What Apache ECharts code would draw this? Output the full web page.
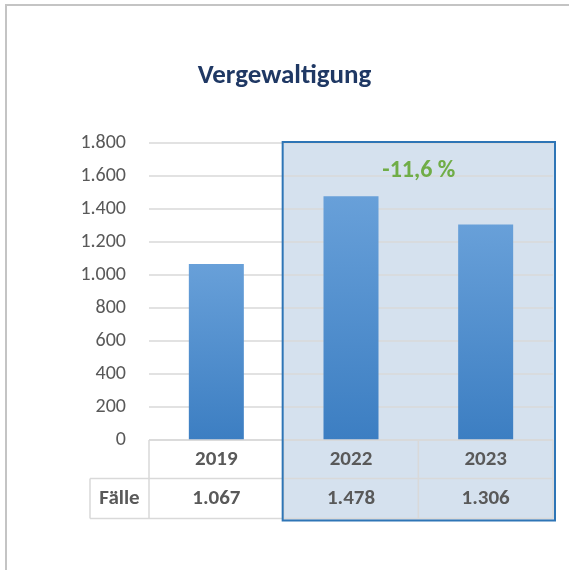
<!DOCTYPE html>
<html>
<head>
<meta charset="utf-8">
<script src="https://cdn.jsdelivr.net/npm/echarts@6/dist/echarts.min.js"></script>
<style>
  html, body { margin: 0; padding: 0; background: #fff; }
  #chart { width: 569px; height: 570px; }
</style>
</head>
<body>
<div id="chart"></div>
<script>
const title = 'Vergewaltigung'
const categories = ['2019', '2022', '2023']
const cases = [1067, 1478, 1306]
const rowLabel = 'Fälle'
const highlighted = ['2022', '2023']
const changeLabel = '-11,6 %'
const yMax = 1800
const yStep = 200

const FONT = 'Carlito, Lato, "Open Sans", sans-serif'
const TEXT = '#595959'
const GRID_LINE = '#d9d9d9'

const fmt = (n) => String(n).replace(/\B(?=(\d{3})+(?!\d))/g, '.')

const chart = echarts.init(document.getElementById('chart'))

chart.setOption({
  animation: false,
  textStyle: { fontFamily: FONT },
  title: {
    text: title,
    left: 'center',
    top: 58,
    textStyle: { color: '#1f3864', fontSize: 27, fontWeight: 'bold', fontFamily: FONT }
  },
  grid: { left: 149, right: 16, top: 143, bottom: 130 },
  xAxis: {
    type: 'category',
    data: categories,
    axisLine: { show: false },
    axisTick: { show: false },
    axisLabel: { show: false }
  },
  yAxis: {
    type: 'value',
    min: 0,
    max: yMax,
    interval: yStep,
    axisLine: { show: false },
    axisTick: { show: false },
    axisLabel: { color: TEXT, fontSize: 20, margin: 23, formatter: (v) => fmt(v) },
    splitLine: { lineStyle: { color: GRID_LINE, width: 1.5 } }
  },
  series: [{
    type: 'bar',
    data: cases,
    barWidth: 55,
    itemStyle: {
      color: new echarts.graphic.LinearGradient(0, 0, 0, 1, [
        { offset: 0, color: '#68a0d9' },
        { offset: 1, color: '#3c7ec2' }
      ]),
      shadowBlur: 6,
      shadowColor: 'rgba(0,0,0,0.3)',
      shadowOffsetX: 2,
      shadowOffsetY: 1
    }
  }]
})

function drawExtras() {
  const cx = categories.map((c) => chart.convertToPixel({ xAxisIndex: 0 }, c))
  const band = cx[1] - cx[0]
  const left = cx[0] - band / 2
  const right = cx[cx.length - 1] + band / 2
  const yTop = chart.convertToPixel({ yAxisIndex: 0 }, yMax)
  const y0 = chart.convertToPixel({ yAxisIndex: 0 }, 0)
  const rowH = 38.5
  const row1 = y0 + rowH
  const row2 = row1 + 40
  const labelLeft = left - 59

  const hi = highlighted.map((c) => categories.indexOf(c))
  const hiLeft = cx[hi[0]] - band / 2 - 1
  const hiRight = cx[hi[hi.length - 1]] + band / 2 + 2

  const els = []
  // outer frame
  els.push({ type: 'rect', z: -30, shape: { x: 6, y: 5, width: 700, height: 700 },
    style: { fill: null, stroke: '#c4c4c4', lineWidth: 2 } })
  // highlight fill
  els.push({ type: 'rect', z: -20, shape: { x: hiLeft, y: yTop - 1, width: hiRight - hiLeft, height: row2 - yTop + 3 },
    style: { fill: '#d5e1ee' } })

  const line = (x1, y1, x2, y2) => els.push({ type: 'line', z: 5,
    shape: { x1, y1, x2, y2 }, style: { stroke: GRID_LINE, lineWidth: 1.5 } })
  line(left, y0, right, y0)
  line(labelLeft, row1, right, row1)
  line(labelLeft, row2, right, row2)
  line(labelLeft, row1, labelLeft, row2)
  for (let i = 0; i <= categories.length; i++) {
    const x = left + i * band
    line(x, y0, x, row2)
  }

  const txt = (text, x, y) => els.push({ type: 'text', z: 10, x, y,
    style: { text, fill: TEXT, font: 'bold 21px ' + FONT, textAlign: 'center', textVerticalAlign: 'middle' } })
  categories.forEach((c, i) => {
    txt(c, cx[i], (y0 + row1) / 2)
    txt(fmt(cases[i]), cx[i], (row1 + row2) / 2)
  })
  txt(rowLabel, (labelLeft + left) / 2, (row1 + row2) / 2)

  // change label
  els.push({ type: 'text', z: 10, x: (hiLeft + hiRight) / 2, y: yTop + 28,
    style: { text: changeLabel, fill: '#70ad47', font: 'bold 24px ' + FONT, textAlign: 'center', textVerticalAlign: 'middle' } })

  // highlight border
  els.push({ type: 'rect', z: 20, shape: { x: hiLeft, y: yTop - 1, width: hiRight - hiLeft, height: row2 - yTop + 3 },
    style: { fill: null, stroke: '#2e75b6', lineWidth: 2 } })

  chart.setOption({ graphic: els })
}

drawExtras()
</script>
</body>
</html>
